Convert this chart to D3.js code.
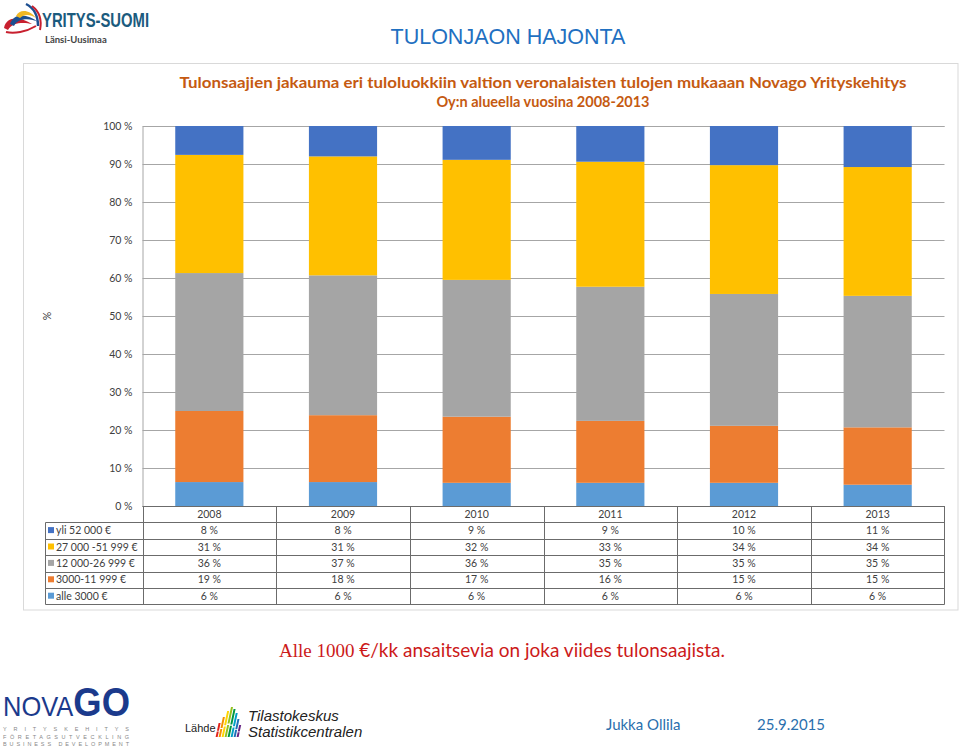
<!DOCTYPE html>
<html>
<head>
<meta charset="utf-8">
<script src="https://cdn.jsdelivr.net/npm/d3@7"></script>
<style>
  body { margin: 0; background: #fff; }
  svg { display: block; }
</style>
</head>
<body>
<div id="viz"></div>
<script>
// values (percent of income earners, bottom -> top)
var years = ["2008", "2009", "2010", "2011", "2012", "2013"];
var seriesKeys = ["alle3000", "k3000", "k12000", "k27000", "yli52000"];
var seriesNames = ["alle 3000 €", "3000-11 999 €", "12 000-26 999 €", "27 000 -51 999 €", "yli 52 000 €"];
var seriesColors = ["#5b9bd5", "#ed7d31", "#a5a5a5", "#ffc000", "#4472c4"];
var alle3000 = [6.3, 6.3, 6.1, 6.1, 6.1, 5.6];
var k3000    = [18.7, 17.6, 17.4, 16.3, 15.0, 15.1];
var k12000   = [36.3, 36.8, 36.0, 35.3, 34.7, 34.6];
var k27000   = [31.1, 31.3, 31.6, 32.9, 33.9, 33.9];
var yli52000 = [7.6, 8.0, 8.9, 9.4, 10.3, 10.8];
var yTicks = [0, 10, 20, 30, 40, 50, 60, 70, 80, 90, 100];

var W = 960, H = 748;
var plotL = 142.5, plotR = 944.5, plotT = 126, plotB = 506;
var rowH = 16.4;
var tableLeft = 45.5;

var rows = years.map(function(y, i) {
  return { year: y, alle3000: alle3000[i], k3000: k3000[i], k12000: k12000[i], k27000: k27000[i], yli52000: yli52000[i] };
});

var svg = d3.select("#viz").append("svg").attr("width", W).attr("height", H);
svg.append("rect").attr("width", W).attr("height", H).attr("fill", "#fff");

// ---- slide header ----
// yritys-suomi logo (rough swirl)
var logo = svg.append("g").attr("transform", "translate(2,2)");
logo.append("path").attr("d", "M2,26 C4,14 18,14 30,22 C22,20 10,20 6,28 Z").attr("fill", "#c8202f");
logo.append("path").attr("d", "M8,22 C12,10 26,12 36,20 C28,16 16,16 12,24 Z").attr("fill", "#1d4f91");
logo.append("path").attr("d", "M14,14 C18,6 28,8 34,16 C28,12 22,12 18,16 Z").attr("fill", "#f2b824");
logo.append("path").attr("d", "M24,2 C32,6 36,14 36,24").attr("fill", "none").attr("stroke", "#1d4f91").attr("stroke-width", 2.5);
logo.append("path").attr("d", "M30,4 C38,10 40,18 38,28").attr("fill", "none").attr("stroke", "#c8202f").attr("stroke-width", 2);
logo.append("path").attr("d", "M4,30 C12,32 24,30 34,24").attr("fill", "none").attr("stroke", "#c8202f").attr("stroke-width", 2);
svg.append("text").attr("x", 42).attr("y", 27).text("YRITYS-SUOMI")
  .attr("font-family", "Liberation Sans, Arial, sans-serif").attr("font-weight", "bold")
  .attr("font-size", 20).attr("fill", "#1b5b7e")
  .attr("textLength", 107).attr("lengthAdjust", "spacingAndGlyphs");
svg.append("text").attr("x", 45).attr("y", 43).text("Länsi-Uusimaa")
  .attr("font-family", "Lato, sans-serif").attr("font-weight", "bold")
  .attr("font-size", 9.5).attr("fill", "#444");

svg.append("text").attr("x", 508).attr("y", 44).attr("text-anchor", "middle")
  .text("TULONJAON HAJONTA")
  .attr("font-family", "Liberation Sans, Arial, sans-serif")
  .attr("font-size", 21.5).attr("fill", "#1f70c1");

// ---- chart frame ----
svg.append("rect").attr("x", 23.5).attr("y", 63.5).attr("width", 934.5).attr("height", 546.5)
  .attr("fill", "#fff").attr("stroke", "#d9d9d9");

var titleFont = "Lato, 'Open Sans', sans-serif";
svg.append("text").attr("x", 543).attr("y", 88).attr("text-anchor", "middle")
  .text("Tulonsaajien jakauma eri tuloluokkiin valtion veronalaisten tulojen mukaaan Novago Yrityskehitys")
  .attr("font-family", titleFont).attr("font-weight", "bold").attr("font-size", 14.5).attr("fill", "#c55a11")
  .attr("textLength", 727).attr("lengthAdjust", "spacingAndGlyphs");
svg.append("text").attr("x", 543).attr("y", 107).attr("text-anchor", "middle")
  .text("Oy:n alueella vuosina 2008-2013")
  .attr("font-family", titleFont).attr("font-weight", "bold").attr("font-size", 14.5).attr("fill", "#c55a11");

// ---- scales ----
var x = d3.scaleBand().domain(years).range([plotL, plotR]).padding(0);
var y = d3.scaleLinear().domain([0, 100]).range([plotB, plotT]);
var barW = x.bandwidth() * 0.51;

// gridlines + y labels
var yAxis = d3.axisLeft(y).tickValues(yTicks).tickFormat(function(d) { return d + " %"; })
  .tickSize(-(plotR - plotL)).tickPadding(10);
var gy = svg.append("g").attr("transform", "translate(" + plotL + ",0)").call(yAxis);
gy.select(".domain").attr("stroke", "#a6a6a6");
gy.selectAll(".tick line").attr("stroke", "#a6a6a6");
gy.selectAll(".tick text").attr("fill", "#404040").attr("font-size", 10.5)
  .attr("font-family", titleFont);

svg.append("text").attr("transform", "translate(51,316) rotate(-90)").attr("text-anchor", "middle")
  .text("%").attr("font-family", titleFont).attr("font-size", 10.5).attr("fill", "#404040");

// stacked bars
var stack = d3.stack().keys(seriesKeys)(rows);
svg.append("g").selectAll("g").data(stack).join("g")
  .attr("fill", function(d, i) { return seriesColors[i]; })
  .selectAll("rect").data(function(d) { return d; }).join("rect")
  .attr("x", function(d) { return x(d.data.year) + (x.bandwidth() - barW) / 2; })
  .attr("width", barW)
  .attr("y", function(d) { return y(d[1]); })
  .attr("height", function(d) { return y(d[0]) - y(d[1]); });

// ---- data table ----
var tbl = svg.append("g");
var lineCol = "#6b6b6b";
var tableBottom = plotB + rowH * 6;
// horizontal lines
tbl.append("line").attr("x1", plotL).attr("x2", plotR).attr("y1", plotB + 0.5).attr("y2", plotB + 0.5).attr("stroke", lineCol);
for (var r = 1; r <= 6; r++) {
  var yy = Math.round(plotB + rowH * r) + 0.5;
  tbl.append("line").attr("x1", tableLeft).attr("x2", plotR).attr("y1", yy).attr("y2", yy).attr("stroke", lineCol);
}
// vertical lines
tbl.append("line").attr("x1", tableLeft).attr("x2", tableLeft)
  .attr("y1", Math.round(plotB + rowH) + 0.5).attr("y2", Math.round(tableBottom) + 0.5).attr("stroke", lineCol);
var colEdges = [plotL].concat(years.map(function(d) { return x(d) + x.bandwidth(); }));
colEdges.forEach(function(cx) {
  var xx = Math.round(cx) + 0.5;
  tbl.append("line").attr("x1", xx).attr("x2", xx).attr("y1", plotB).attr("y2", Math.round(tableBottom) + 0.5).attr("stroke", lineCol);
});

var cellFont = { family: titleFont, size: 10.5, color: "#404040" };
// header (years)
tbl.selectAll("text.yr").data(years).join("text").attr("class", "yr")
  .attr("x", function(d) { return x(d) + x.bandwidth() / 2; })
  .attr("y", plotB + rowH / 2).attr("dy", "0.35em").attr("text-anchor", "middle")
  .text(function(d) { return d; })
  .attr("font-family", cellFont.family).attr("font-size", cellFont.size).attr("fill", cellFont.color);

// rows top -> bottom: reverse of stack order
var tableRows = [4, 3, 2, 1, 0];
var seriesVals = [alle3000, k3000, k12000, k27000, yli52000];
tableRows.forEach(function(si, r) {
  var cy = plotB + rowH * (r + 1) + rowH / 2;
  tbl.append("rect").attr("x", 48).attr("y", cy - 3.5).attr("width", 6).attr("height", 6).attr("fill", seriesColors[si]);
  tbl.append("text").attr("x", 56).attr("y", cy).attr("dy", "0.35em").text(seriesNames[si])
    .attr("font-family", cellFont.family).attr("font-size", cellFont.size).attr("fill", cellFont.color);
  tbl.selectAll(null).data(seriesVals[si]).join("text")
    .attr("x", function(d, i) { return x(years[i]) + x.bandwidth() / 2; })
    .attr("y", cy).attr("dy", "0.35em").attr("text-anchor", "middle")
    .text(function(d) { return Math.round(d) + " %"; })
    .attr("font-family", cellFont.family).attr("font-size", cellFont.size).attr("fill", cellFont.color);
});

// ---- slide footer ----
var sub = svg.append("text").attr("x", 502).attr("y", 657).attr("text-anchor", "middle")
  .attr("font-size", 19).attr("fill", "#cc1a1a");
sub.append("tspan").attr("font-family", "Liberation Serif, Times New Roman, serif").text("Alle 1000 ");
sub.append("tspan").attr("font-family", "Lato, 'Open Sans', sans-serif").text("€/kk ansaitsevia on joka viides tulonsaajista.");

// novago logo
var nov = svg.append("text").attr("x", 3).attr("y", 716)
  .attr("font-family", "Liberation Sans, Arial, sans-serif").attr("fill", "#1b3a8c")
  .attr("textLength", 127).attr("lengthAdjust", "spacingAndGlyphs");
nov.append("tspan").attr("font-size", 28).text("NOVA");
nov.append("tspan").attr("font-size", 40).attr("font-weight", "bold").text("GO");
["YRITYSKEHITYS", "FÖRETAGSUTVECKLING", "BUSINESS DEVELOPMENT"].forEach(function(t, i) {
  svg.append("text").attr("x", 3).attr("y", 731 + i * 7.5).text(t)
    .attr("font-family", "Liberation Sans, Arial, sans-serif").attr("font-size", 5.5).attr("fill", "#888")
    .attr("textLength", 126).attr("lengthAdjust", "spacing");
});

// source logo
svg.append("text").attr("x", 185).attr("y", 732).text("Lähde")
  .attr("font-family", "Liberation Sans, Arial, sans-serif").attr("font-size", 11).attr("fill", "#222");
var barCols = ["#e2231a", "#f39200", "#ffd500", "#95c11f", "#009640", "#00a0c6", "#1d71b8", "#662483"];
var ic = svg.append("g").attr("transform", "translate(219,707) skewX(-12)");
barCols.forEach(function(c, i) {
  var h = [14, 20, 26, 30, 28, 24, 18, 12][i];
  ic.append("rect").attr("x", 3 + i * 3).attr("y", 30 - h).attr("width", 2).attr("height", h * 0.55).attr("fill", c);
  ic.append("rect").attr("x", 3 + i * 3).attr("y", 30 - h * 0.4).attr("width", 2).attr("height", h * 0.4).attr("fill", c);
});
svg.append("text").attr("x", 248).attr("y", 721).text("Tilastokeskus")
  .attr("font-family", "Liberation Sans, Arial, sans-serif").attr("font-style", "italic").attr("font-size", 15).attr("fill", "#222");
svg.append("text").attr("x", 248).attr("y", 737).text("Statistikcentralen")
  .attr("font-family", "Liberation Sans, Arial, sans-serif").attr("font-style", "italic").attr("font-size", 15).attr("fill", "#222");

svg.append("text").attr("x", 606).attr("y", 730).text("Jukka Ollila")
  .attr("font-family", "Lato, 'Open Sans', sans-serif").attr("font-size", 15).attr("fill", "#2a6fad");
svg.append("text").attr("x", 757).attr("y", 730).text("25.9.2015")
  .attr("font-family", "Lato, 'Open Sans', sans-serif").attr("font-size", 15).attr("fill", "#2a6fad");
</script>
</body>
</html>
